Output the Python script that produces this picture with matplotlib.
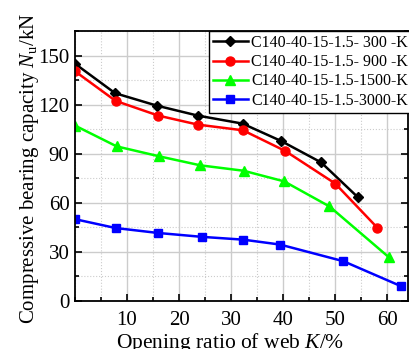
import matplotlib
matplotlib.use("Agg")
import matplotlib.pyplot as plt
from matplotlib.ticker import MultipleLocator

plt.rcParams['font.family'] = 'Liberation Serif'
plt.rcParams['mathtext.fontset'] = 'custom'
plt.rcParams['mathtext.rm'] = 'Liberation Serif'
plt.rcParams['mathtext.it'] = 'Liberation Serif:italic'

# data
k_300 = [0, 7.7, 15.7, 23.6, 32.2, 39.6, 47.3, 54.4]
n_300 = [145, 127, 119.4, 113.3, 108.4, 97.8, 84.7, 63.3]
k_900 = [0, 7.8, 16.0, 23.6, 32.3, 40.4, 50.0, 58.1]
n_900 = [140.4, 122.3, 113.3, 107.8, 104.3, 91.7, 71.8, 44.8]
k_1500 = [0, 8.0, 16.2, 24.1, 32.4, 40.2, 48.9, 60.3]
n_1500 = [107.2, 94.5, 88.4, 82.9, 79.6, 73.1, 57.8, 26.8]
k_3000 = [0, 7.8, 15.9, 24.4, 32.3, 39.4, 51.6, 62.7]
n_3000 = [50.0, 44.6, 41.6, 39.2, 37.5, 34.5, 24.3, 9.0]

labels = ['C140-40-15-1.5- 300 -K', 'C140-40-15-1.5- 900 -K',
          'C140-40-15-1.5-1500-K', 'C140-40-15-1.5-3000-K']

fig = plt.figure(figsize=(4.09, 3.49), dpi=100)
ax = fig.add_axes([75/409, 1-301/349, 333/409, 270/349])

ax.plot(k_300, n_300, color='black', marker='D', ms=5.5, lw=1.8, label=labels[0])
ax.plot(k_900, n_900, color='#ff0000', marker='o', ms=6.5, lw=1.8, label=labels[1])
ax.plot(k_1500, n_1500, color='#00ff00', marker='^', ms=7, lw=1.8, label=labels[2])
ax.plot(k_3000, n_3000, color='#0000ff', marker='s', ms=5.5, lw=1.8, label=labels[3])

ax.set_xlim(0, 64)
ax.set_ylim(0, 165)
ax.set_xticks([10, 20, 30, 40, 50, 60])
ax.set_yticks([0, 30, 60, 90, 120, 150])
ax.xaxis.set_minor_locator(MultipleLocator(5))
ax.yaxis.set_minor_locator(MultipleLocator(15))
ax.grid(which='major', color='#cccccc', lw=1.0, ls='-')
ax.grid(which='minor', color='#cccccc', lw=0.8, ls=':')
ax.set_axisbelow(True)
ax.tick_params(which='both', direction='in', right=True, labelsize=15, width=1.2)
ax.tick_params(which='major', length=5)
ax.tick_params(which='minor', length=3)
ax.tick_params(axis='x', pad=7)
ax.tick_params(axis='y', pad=4)
for s in ax.spines.values():
    s.set_linewidth(1.3)

ax.set_xlabel('Opening ratio of web $K$/%', fontsize=15.5)
ax.xaxis.set_label_coords(0.465, -0.11)
ax.set_ylabel('Compressive bearing capacity $N_\\mathrm{u}$/kN', fontsize=15)
ax.yaxis.set_label_coords(-0.102, 0.49)

leg = ax.legend(loc='upper right', bbox_to_anchor=(1.012, 1.0), fontsize=11.5,
                frameon=True, fancybox=False, edgecolor='black', framealpha=1,
                borderaxespad=0, handlelength=2.2, labelspacing=0.2,
                borderpad=0.25, handletextpad=0.2)
leg.get_frame().set_linewidth(1.0)

fig.savefig('out.png', dpi=100)
